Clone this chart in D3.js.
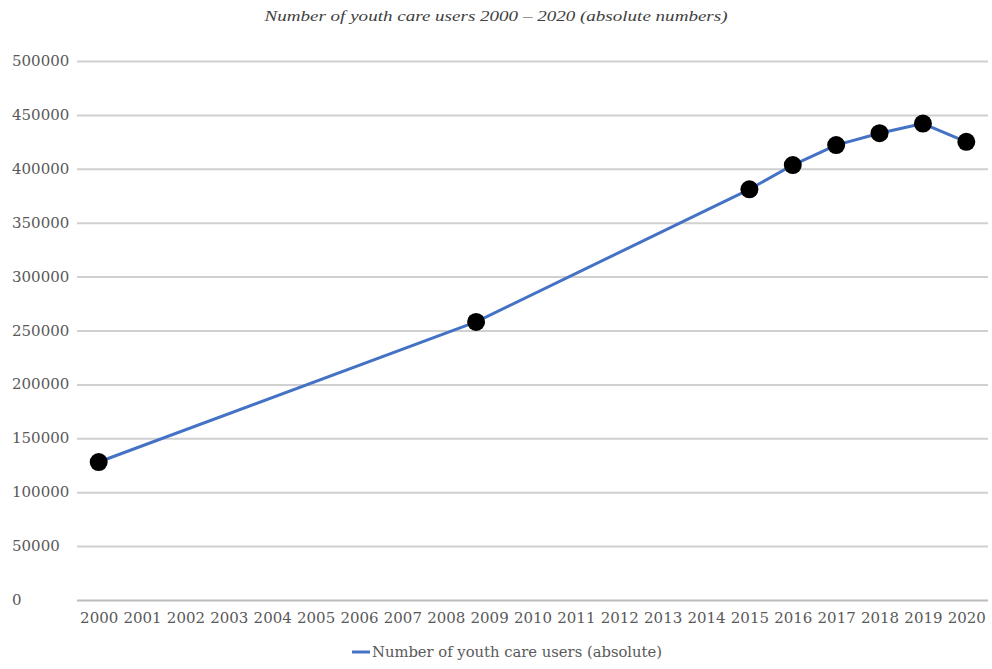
<!DOCTYPE html>
<html>
<head>
<meta charset="utf-8">
<script src="https://cdn.jsdelivr.net/npm/d3@7"></script>
<style>
  html, body { margin: 0; padding: 0; background: #fff; }
  svg { display: block; }
</style>
</head>
<body>
<svg id="chart" width="992" height="669"></svg>
<script>
// Youth care users, absolute numbers per year
const years = [2000, 2008.7, 2015, 2016, 2017, 2018, 2019, 2020];
const users = [128000, 258000, 381000, 403500, 422000, 433000, 442000, 425000];
const yearTicks = d3.range(2000, 2021);
const valueTicks = [0, 50000, 100000, 150000, 200000, 250000, 300000, 350000, 400000, 450000, 500000];
const titleText = "Number of youth care users 2000 \u2013 2020 (absolute numbers)";
const seriesName = "Number of youth care users (absolute)";

const svg = d3.select("#chart");
const plot = { left: 77, right: 988, top: 61, bottom: 600 };

const x = d3.scaleLinear().domain([1999.5, 2020.5]).range([plot.left, plot.right]);
const y = d3.scaleLinear().domain([0, 500000]).range([plot.bottom, plot.top]);

const labelFont = "'DejaVu Serif', 'Liberation Serif', serif";
const labelColor = "#595959";

// Title
svg.append("text")
  .attr("x", 496).attr("y", 21)
  .attr("text-anchor", "middle")
  .attr("font-family", "'Liberation Serif', 'Times New Roman', serif")
  .attr("font-style", "italic")
  .attr("font-size", 15)
  .attr("fill", "#404040")
  .attr("textLength", 463)
  .attr("lengthAdjust", "spacingAndGlyphs")
  .text(titleText);

// Horizontal gridlines
const yAxis = d3.axisLeft(y).tickValues(valueTicks).tickSize(-(plot.right - plot.left)).tickFormat("");
const gy = svg.append("g").attr("transform", `translate(${plot.left},0)`).call(yAxis);
gy.select(".domain").remove();
gy.selectAll(".tick line")
  .attr("stroke", d => d === 0 ? "#bcbcbc" : "#d0d0d0")
  .attr("stroke-width", 2);

// Value labels, left aligned
svg.append("g").selectAll("text")
  .data(valueTicks)
  .join("text")
  .attr("x", 12)
  .attr("y", d => y(d) + 5)
  .attr("font-family", labelFont)
  .attr("font-size", 15)
  .attr("fill", labelColor)
  .text(d => d3.format("d")(d));

// Year labels
const xAxis = d3.axisBottom(x).tickValues(yearTicks).tickSize(0).tickPadding(12).tickFormat(d3.format("d"));
const gx = svg.append("g").attr("transform", `translate(0,${plot.bottom})`).call(xAxis);
gx.select(".domain").remove();
gx.selectAll(".tick text")
  .attr("font-family", labelFont)
  .attr("font-size", 15)
  .attr("fill", labelColor);

// Series line
const pts = years.map((yr, i) => [yr, users[i]]);
svg.append("path")
  .datum(pts)
  .attr("fill", "none")
  .attr("stroke", "#4472C4")
  .attr("stroke-width", 3)
  .attr("stroke-linejoin", "round")
  .attr("d", d3.line().x(d => x(d[0])).y(d => y(d[1])));

// Markers
svg.append("g").selectAll("circle")
  .data(pts)
  .join("circle")
  .attr("cx", d => x(d[0]))
  .attr("cy", d => y(d[1]))
  .attr("r", 9)
  .attr("fill", "#000");

// Legend
const lg = svg.append("g").attr("transform", "translate(352,652)");
lg.append("line").attr("x1", 0).attr("x2", 18).attr("y1", 0).attr("y2", 0)
  .attr("stroke", "#4472C4").attr("stroke-width", 3);
lg.append("text")
  .attr("x", 20).attr("y", 5)
  .attr("font-family", labelFont)
  .attr("font-size", 14)
  .attr("fill", labelColor)
  .attr("textLength", 290)
  .attr("lengthAdjust", "spacingAndGlyphs")
  .text(seriesName);
</script>
</body>
</html>
